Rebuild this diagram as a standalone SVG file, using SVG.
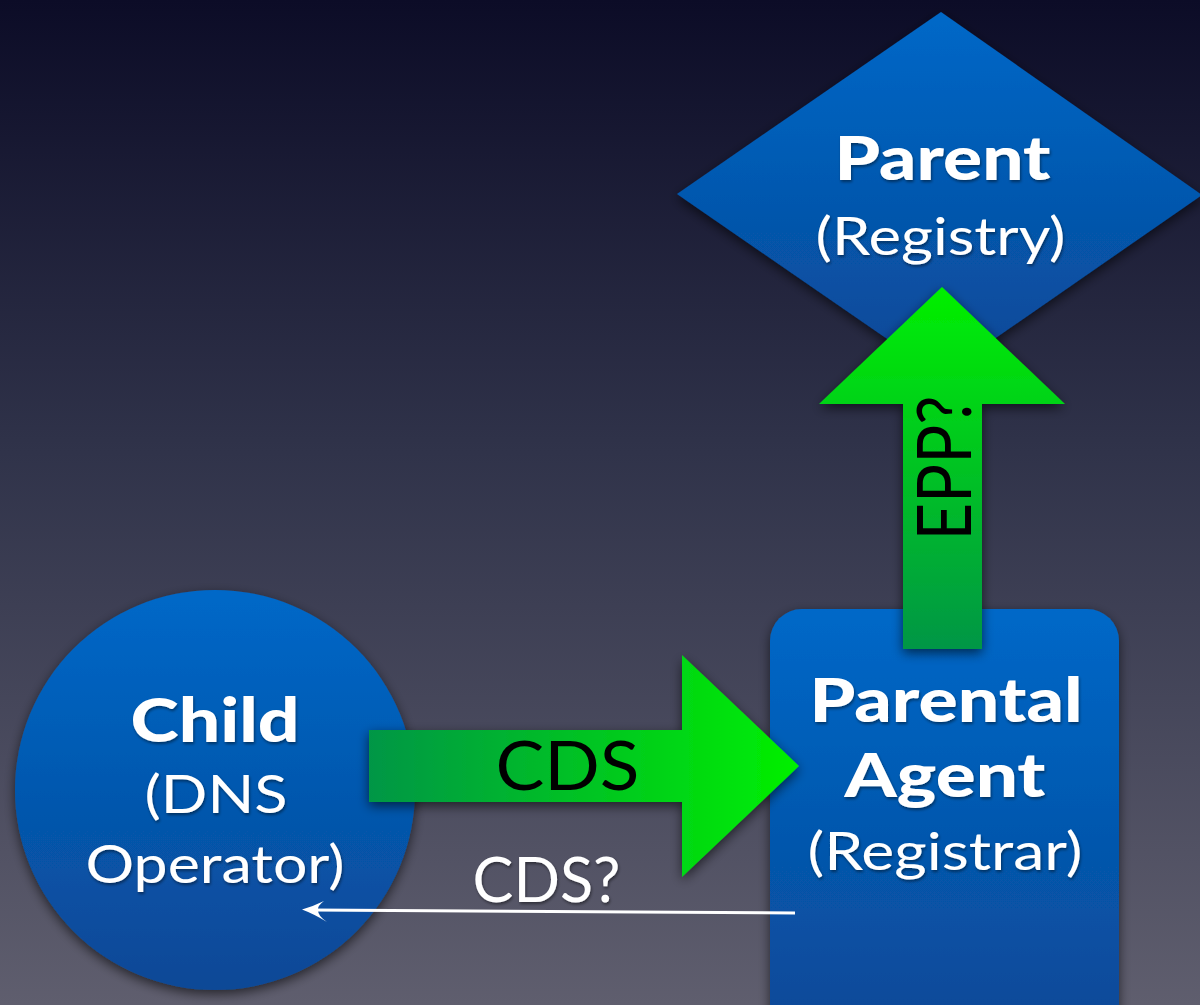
<svg xmlns="http://www.w3.org/2000/svg" width="1200" height="1005" viewBox="0 0 1200 1005">
<defs>
<linearGradient id="bg" x1="0" y1="0" x2="0" y2="1">
<stop offset="0" stop-color="#0c0c27"/>
<stop offset="0.45" stop-color="#30334a"/>
<stop offset="1" stop-color="#5f5e6e"/>
</linearGradient>
<linearGradient id="blue" x1="0" y1="0" x2="0" y2="1">
<stop offset="0" stop-color="#0068c8"/>
<stop offset="1" stop-color="#0a4896"/>
</linearGradient>
<linearGradient id="greenUp" x1="0" y1="0" x2="0" y2="1">
<stop offset="0" stop-color="#00f000"/>
<stop offset="1" stop-color="#009646"/>
</linearGradient>
<linearGradient id="greenRight" x1="0" y1="0" x2="1" y2="0">
<stop offset="0" stop-color="#009646"/>
<stop offset="1" stop-color="#00f000"/>
</linearGradient>
<filter id="shadow" x="-20%" y="-20%" width="140%" height="140%">
<feGaussianBlur in="SourceAlpha" stdDeviation="6"/>
<feOffset dx="0" dy="4" result="b"/>
<feComponentTransfer><feFuncA type="linear" slope="0.6"/></feComponentTransfer>
<feMerge><feMergeNode/><feMergeNode in="SourceGraphic"/></feMerge>
</filter>
<filter id="tshadow" x="-10%" y="-10%" width="120%" height="130%">
<feGaussianBlur in="SourceAlpha" stdDeviation="1.5"/>
<feOffset dx="1" dy="2"/>
<feComponentTransfer><feFuncA type="linear" slope="0.45"/></feComponentTransfer>
<feMerge><feMergeNode/><feMergeNode in="SourceGraphic"/></feMerge>
</filter>
</defs>
<style>
.lbl{font-family:"Lato","Liberation Sans",sans-serif;fill:#ffffff;text-anchor:middle;}
.b{font-weight:900;font-size:60px;}
.r{font-weight:normal;font-size:52px;}
.dark{font-family:"Lato","Liberation Sans",sans-serif;fill:#000000;text-anchor:middle;}
</style>
<rect x="0" y="0" width="1200" height="1005" fill="url(#bg)"/>

<g id="parent">
<polygon points="941,12 1202,195 941,376 677,194" fill="url(#blue)" filter="url(#shadow)"/>
<g filter="url(#tshadow)">
<text class="lbl b" x="942.5" y="180" textLength="216" lengthAdjust="spacingAndGlyphs">Parent</text>
<text class="lbl r" x="940.5" y="255" textLength="250" lengthAdjust="spacingAndGlyphs">(Registry)</text>
</g>
</g>

<g id="child">
<circle cx="215" cy="790" r="200" fill="url(#blue)" filter="url(#shadow)"/>
<g filter="url(#tshadow)">
<text class="lbl b" x="215" y="742" textLength="169" lengthAdjust="spacingAndGlyphs">Child</text>
<text class="lbl r" x="216" y="813" textLength="143" lengthAdjust="spacingAndGlyphs">(DNS</text>
<text class="lbl r" x="215" y="883" textLength="259" lengthAdjust="spacingAndGlyphs">Operator)</text>
</g>
</g>

<g id="agent">
<rect x="770" y="609" width="349" height="430" rx="32" ry="32" fill="url(#blue)" filter="url(#shadow)"/>
<g filter="url(#tshadow)">
<text class="lbl b" x="946" y="722" textLength="273" lengthAdjust="spacingAndGlyphs">Parental</text>
<text class="lbl b" x="945" y="797" textLength="201" lengthAdjust="spacingAndGlyphs">Agent</text>
<text class="lbl r" x="945" y="870" textLength="275" lengthAdjust="spacingAndGlyphs">(Registrar)</text>
</g>
</g>

<g id="connectors">
<g id="epp">
<polygon points="942,287 1065,404 982,404 982,649 903,649 903,404 819,404" fill="url(#greenUp)" filter="url(#shadow)"/>
<text class="dark" font-size="75" transform="translate(971,468) rotate(-90)" textLength="145" lengthAdjust="spacingAndGlyphs">EPP?</text>
</g>
<g id="cds">
<polygon points="369,730 682,730 682,655 799,766 682,877 682,802 369,802" fill="url(#greenRight)" filter="url(#shadow)"/>
<text class="dark" font-size="67" x="567.5" y="790" textLength="144" lengthAdjust="spacingAndGlyphs">CDS</text>
</g>
<g id="cdsq">
<line x1="795" y1="913" x2="312" y2="910" stroke="#ffffff" stroke-width="3"/>
<path d="M302,909.5 Q314,906 324,901 Q317,906 318,910.5 Q318,916 327,922 Q314,914 302,909.5 Z" fill="#ffffff"/>
<text class="lbl" font-size="61" x="546.5" y="902" textLength="148" lengthAdjust="spacingAndGlyphs" filter="url(#tshadow)">CDS?</text>
</g>
</g>
</svg>
